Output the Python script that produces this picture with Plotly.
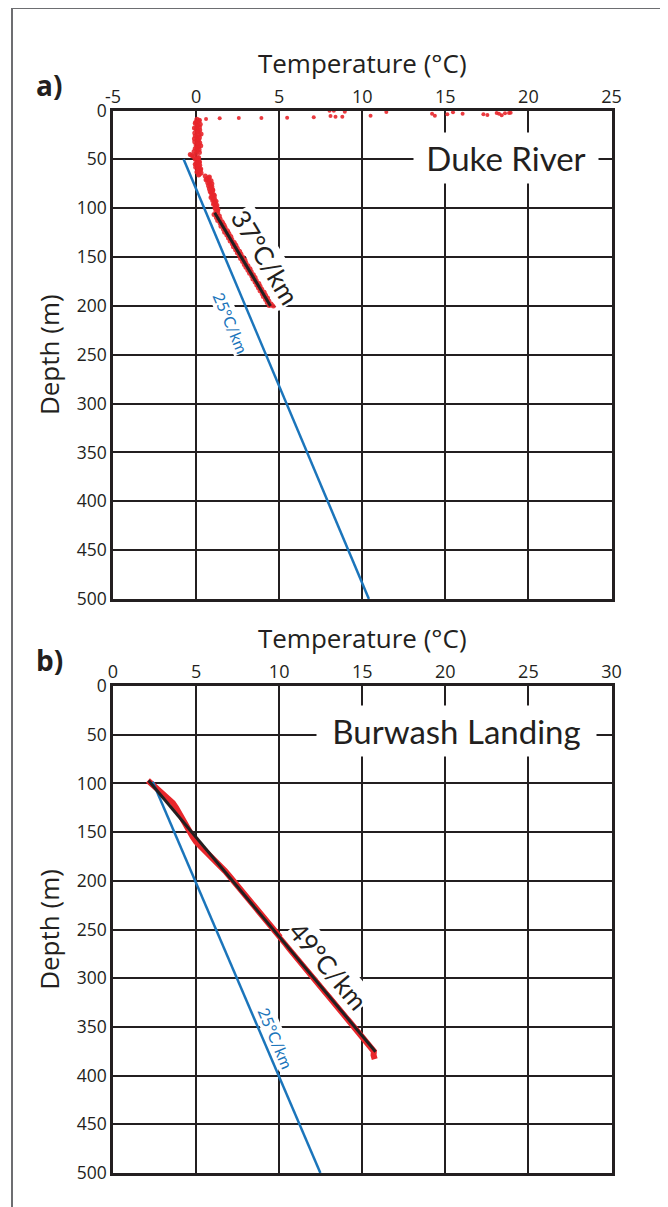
import plotly.graph_objects as go

# ---------------- Data ----------------
# Panel a) Duke River
duke_surface_temp = [0.60, 1.42, 2.57, 3.93, 5.48, 7.08, 8.03, 8.29, 8.09, 8.39, 8.80, 8.95, 10.50, 11.45,
                     14.20, 14.37, 15.12, 15.46, 16.04, 17.29, 17.53, 18.09, 18.23, 18.39, 18.59, 18.83, 18.93]
duke_surface_depth = [8.7, 8.0, 7.7, 7.7, 7.4, 7.0, 0.3, 0.2, 5.6, 6.3, 6.3, 1.2, 5.3, 1.5,
                      3.3, 5.3, 3.9, 1.9, 3.3, 3.9, 4.6, 2.6, 3.3, 4.9, 2.9, 2.6, 2.3]

duke_upper_depth = [9, 11, 13, 15, 17, 19, 21, 23, 25, 27, 29, 31, 33, 35, 37, 39, 41, 43, 45, 47, 49, 51, 53, 55, 57, 59, 61, 63, 65,
                    10, 12, 14, 16, 18, 20, 22, 24, 26, 28, 30, 32, 34, 36, 38, 40, 42, 44, 46, 48, 50, 52, 54, 56, 58, 60, 62, 64, 66]
duke_upper_temp = [0.05, 0.15, -0.05, 0.10, 0.20, 0.00, 0.12, -0.08, 0.18, 0.05, -0.10, 0.10, 0.22, 0.00, 0.15, -0.05, 0.08, 0.20, -0.35, -0.15, 0.10, 0.05, 0.20, -0.05, 0.15, 0.10, 0.25, 0.05, 0.20,
                   0.20, -0.02, 0.25, 0.05, -0.10, 0.22, 0.10, 0.30, -0.05, 0.20, 0.15, -0.08, 0.12, 0.28, 0.05, 0.18, -0.12, 0.00, -0.25, 0.15, -0.05, 0.18, 0.02, 0.22, -0.02, 0.28, 0.12, 0.30, 0.15]

duke_mid_depth = [67, 68, 70, 72, 74, 76, 78, 80, 82, 84, 86, 88, 90, 92, 94, 96, 98, 100, 102,
                  69, 71, 73, 75, 77, 79, 81, 83, 85, 87, 89, 91, 93, 95, 97, 99, 101, 103]
duke_mid_temp = [0.55, 0.80, 0.65, 0.90, 0.70, 0.85, 0.95, 0.80, 1.00, 0.90, 1.05, 0.95, 1.10, 1.00, 1.15, 1.05, 1.20, 1.15, 1.30,
                 0.75, 0.60, 0.80, 0.95, 0.75, 0.90, 1.00, 0.85, 0.95, 1.10, 0.90, 1.05, 1.20, 1.10, 1.25, 1.15, 1.30, 1.20]

duke_lower_depth = [105, 108, 111, 114, 117, 120, 123, 126, 129, 132, 135, 138, 141, 144, 147, 150, 153, 156, 159, 162,
                    165, 168, 171, 174, 177, 180, 183, 186, 189, 192, 195, 198, 200,
                    106.5, 109.5, 112.5, 115.5, 118.5, 121.5, 124.5, 127.5, 130.5, 133.5, 136.5, 139.5, 142.5, 145.5,
                    148.5, 151.5, 154.5, 157.5, 160.5, 163.5, 166.5, 169.5, 172.5, 175.5, 178.5, 181.5, 184.5, 187.5,
                    190.5, 193.5, 196.5, 199.5]
duke_lower_temp = [1.30, 1.40, 1.45, 1.60, 1.70, 1.75, 1.90, 1.98, 2.10, 2.15, 2.30, 2.40, 2.48, 2.62, 2.70, 2.80, 2.95, 3.00, 3.12, 3.25,
                   3.32, 3.45, 3.55, 3.62, 3.78, 3.85, 3.95, 4.10, 4.18, 4.30, 4.38, 4.52, 4.65,
                   1.08, 1.22, 1.30, 1.45, 1.50, 1.65, 1.72, 1.85, 1.95, 2.05, 2.18, 2.25, 2.38, 2.48,
                   2.60, 2.68, 2.80, 2.90, 3.00, 3.12, 3.22, 3.35, 3.42, 3.55, 3.65, 3.75, 3.85, 3.98,
                   4.05, 4.18, 4.28, 4.40]

duke_fit_temp = [1.12, 4.48]
duke_fit_depth = [104.6, 200.1]
duke_ref_temp = [-0.75, 10.4]
duke_ref_depth = [50, 500]

# Panel b) Burwash Landing
burwash_depth = [97, 100, 105, 110, 115, 120, 125, 130, 135, 140, 145, 150, 155, 160, 165, 170, 175, 180, 185, 190, 195, 200,
                 205, 210, 215, 220, 225, 230, 235, 240, 245, 250, 255, 260, 265, 270, 275, 280, 285, 290, 295, 300,
                 305, 310, 315, 320, 325, 330, 335, 340, 345, 350, 355, 360, 365, 370, 375, 379, 383]
burwash_temp = [2.10, 2.30, 2.60, 2.90, 3.25, 3.60, 3.80, 3.95, 4.10, 4.30, 4.45, 4.65, 4.80, 5.00, 5.30, 5.65, 5.95, 6.25, 6.50, 6.75, 7.00, 7.25,
                7.45, 7.70, 7.95, 8.20, 8.45, 8.70, 8.95, 9.20, 9.42, 9.68, 9.90, 10.15, 10.40, 10.62, 10.85, 11.10, 11.33, 11.58, 11.82, 12.07,
                12.30, 12.55, 12.80, 13.05, 13.30, 13.55, 13.78, 14.02, 14.27, 14.52, 14.75, 15.00, 15.25, 15.48, 15.70, 15.68, 15.75]
burwash_fit_temp = [2.14, 15.8]
burwash_fit_depth = [97, 375.5]
burwash_ref_temp = [2.39, 12.48]
burwash_ref_depth = [98.3, 500]

duke_xticks = [-5, 0, 5, 10, 15, 20, 25]
duke_xtick_labels = ["-5", "0", "5", "10", "15", "20", "25"]
burwash_xticks = [0, 5, 10, 15, 20, 25, 30]
burwash_xtick_labels = ["0", "5", "10", "15", "20", "25", "30"]
depth_ticks = [0, 50, 100, 150, 200, 250, 300, 350, 400, 450, 500]

# ---------------- Styles ----------------
PAGE_MARGIN = 8            # default body margin of the html page
W, H = 668 - PAGE_MARGIN, 1207 - PAGE_MARGIN
INK = "#231f20"
RED = "#e8262b"
BLUE = "#1b75bb"
FONT = "Open Sans"
LABEL_FONT = "Lato"


def px(x):
    return (x - PAGE_MARGIN) / W


def py(y):
    return 1 - (y - PAGE_MARGIN) / H


fig = go.Figure()

duke_temp = duke_upper_temp + duke_mid_temp + duke_lower_temp
duke_depth = duke_upper_depth + duke_mid_depth + duke_lower_depth

fig.add_trace(go.Scatter(x=duke_surface_temp, y=duke_surface_depth, mode="markers",
                         marker=dict(color=RED, size=4, opacity=0.9, line=dict(width=0)),
                         xaxis="x", yaxis="y", showlegend=False, hoverinfo="skip"))
fig.add_trace(go.Scatter(x=duke_temp, y=duke_depth, mode="markers",
                         marker=dict(color=RED, size=5, opacity=0.9, line=dict(width=0)),
                         xaxis="x", yaxis="y", showlegend=False, hoverinfo="skip"))
fig.add_trace(go.Scatter(x=duke_ref_temp, y=duke_ref_depth, mode="lines",
                         line=dict(color=BLUE, width=2.5), xaxis="x", yaxis="y", showlegend=False))
fig.add_trace(go.Scatter(x=duke_fit_temp, y=duke_fit_depth, mode="lines",
                         line=dict(color=INK, width=3), xaxis="x", yaxis="y", showlegend=False))

fig.add_trace(go.Scatter(x=burwash_temp, y=burwash_depth, mode="lines",
                         line=dict(color=RED, width=6), xaxis="x2", yaxis="y2", showlegend=False))
fig.add_trace(go.Scatter(x=burwash_ref_temp, y=burwash_ref_depth, mode="lines",
                         line=dict(color=BLUE, width=2.5), xaxis="x2", yaxis="y2", showlegend=False))
fig.add_trace(go.Scatter(x=burwash_fit_temp, y=burwash_fit_depth, mode="lines",
                         line=dict(color=INK, width=3), xaxis="x2", yaxis="y2", showlegend=False))

xdom = [px(113), px(611.5)]
top_dom = [py(599), py(110.5)]
bot_dom = [py(1173), py(686)]

common_axis = dict(showgrid=True, gridcolor=INK, gridwidth=2, showline=True, mirror=True,
                   linecolor=INK, linewidth=2.5, zeroline=False, ticks="", automargin=False,
                   tickfont=dict(family=FONT, size=18, color=INK))
ytick_font = dict(family=FONT, size=17.5, color=INK)
title_font = dict(family=FONT, size=26, color=INK)

fig.update_layout(
    width=W, height=H, margin=dict(l=0, r=0, t=0, b=0, autoexpand=False),
    paper_bgcolor="white", plot_bgcolor="white",
    xaxis=dict(domain=xdom, anchor="y", side="top", range=[-5, 25], tickvals=duke_xticks,
               ticktext=duke_xtick_labels,
               title=dict(text="Temperature (°C)", font=title_font, standoff=3),
               ticklabelstandoff=-2, **common_axis),
    yaxis=dict(domain=top_dom, anchor="x", range=[500, 0], tickvals=depth_ticks,
               title=dict(text="Depth (m)", font=title_font, standoff=10),
               ticklabelstandoff=0, **{**common_axis, "tickfont": ytick_font}),
    xaxis2=dict(domain=xdom, anchor="y2", side="top", range=[0, 30], tickvals=burwash_xticks,
                ticktext=burwash_xtick_labels,
                title=dict(text="Temperature (°C)", font=title_font, standoff=3),
                ticklabelstandoff=-2, **common_axis),
    yaxis2=dict(domain=bot_dom, anchor="x2", range=[500, 0], tickvals=depth_ticks,
                title=dict(text="Depth (m)", font=title_font, standoff=10),
                ticklabelstandoff=0, **{**common_axis, "tickfont": ytick_font}),
    shapes=[dict(type="rect", xref="paper", yref="paper", x0=px(12), x1=px(663), y0=-0.05, y1=py(8),
                 line=dict(color="#6d6e71", width=2), fillcolor="rgba(0,0,0,0)", layer="below")],
    annotations=[
        dict(text="<b>a)</b>", x=px(49), y=py(85), xref="paper", yref="paper", showarrow=False,
             xanchor="center", yanchor="middle", font=dict(family=FONT, size=28, color=INK)),
        dict(text="<b>b)</b>", x=px(49), y=py(660), xref="paper", yref="paper", showarrow=False,
             xanchor="center", yanchor="middle", font=dict(family=FONT, size=28, color=INK)),
        dict(text="Duke River", x=18.63, y=48.6, xref="x", yref="y", showarrow=False,
             width=184, height=50, bgcolor="white", borderpad=0,
             font=dict(family=LABEL_FONT, size=33, color=INK)),
        dict(text="Burwash Landing", x=20.7, y=46.2, xref="x2", yref="y2", showarrow=False,
             width=279, height=50, bgcolor="white", borderpad=0,
             font=dict(family=LABEL_FONT, size=33, color=INK)),
        dict(text="37°C/km", x=4.17, y=150, xref="x", yref="y", showarrow=False, textangle=59,
             bgcolor="white", borderpad=0, font=dict(family=LABEL_FONT, size=26, color=INK)),
        dict(text="25°C/km", x=2.13, y=217.5, xref="x", yref="y", showarrow=False, textangle=67,
             bgcolor="white", borderpad=0, font=dict(family=LABEL_FONT, size=16, color=BLUE)),
        dict(text="49°C/km", x=12.97, y=287.5, xref="x2", yref="y2", showarrow=False, textangle=50,
             bgcolor="white", borderpad=0, font=dict(family=LABEL_FONT, size=26, color=INK)),
        dict(text="25°C/km", x=9.82, y=361.4, xref="x2", yref="y2", showarrow=False, textangle=67,
             bgcolor="white", borderpad=0, font=dict(family=LABEL_FONT, size=16, color=BLUE)),
    ],
)

fig.write_html("out.html")
